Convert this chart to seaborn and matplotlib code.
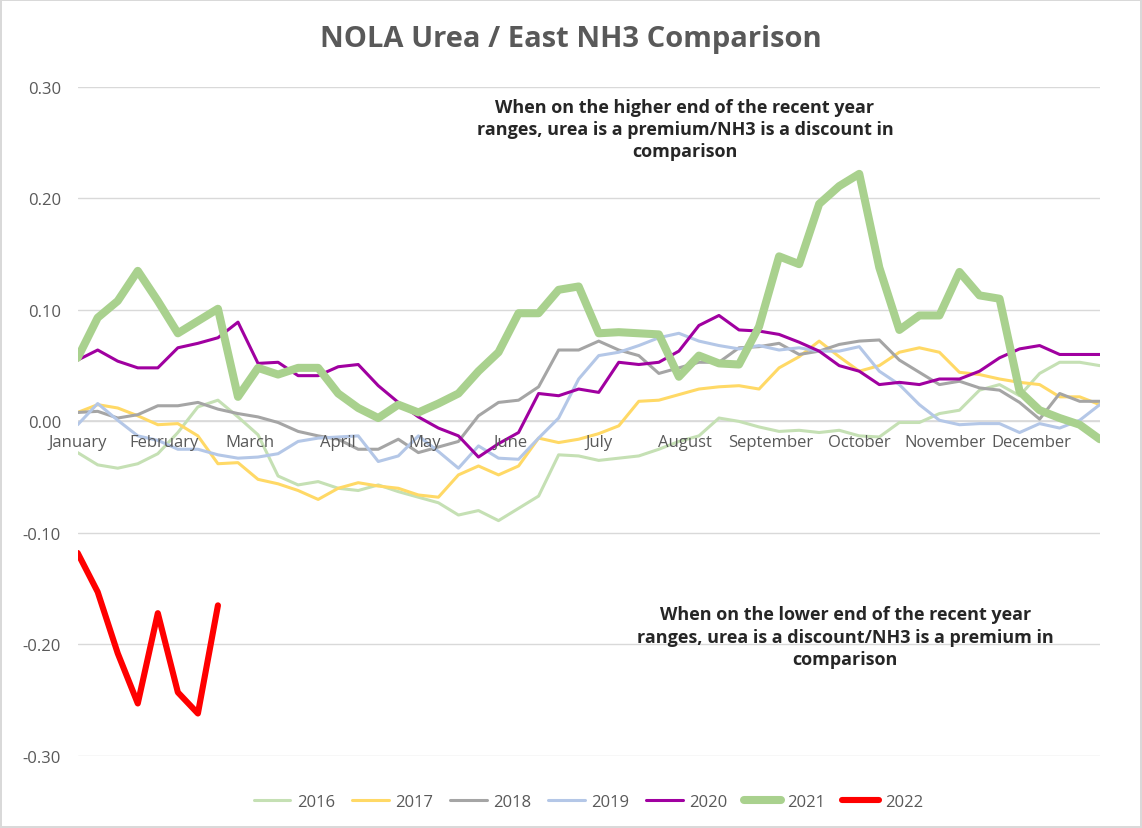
import matplotlib
matplotlib.use("Agg")
import matplotlib.pyplot as plt
import seaborn as sns
import pandas as pd
import numpy as np

months = ["January", "February", "March", "April", "May", "June", "July",
          "August", "September", "October", "November", "December"]
month_pos = [0, 4.3, 8.6, 13, 17.3, 21.6, 26, 30.3, 34.6, 39, 43.3, 47.6]

y2016 = [-0.028, -0.039, -0.042, -0.038, -0.029, -0.010, 0.013, 0.019, 0.004, -0.012,
         -0.049, -0.057, -0.054, -0.060, -0.062, -0.057, -0.063, -0.068, -0.073, -0.084,
         -0.080, -0.089, -0.078, -0.067, -0.030, -0.031, -0.035, -0.033, -0.031, -0.025,
         -0.018, -0.013, 0.003, 0.000, -0.005, -0.009, -0.008, -0.010, -0.008, -0.013,
         -0.014, -0.001, -0.001, 0.007, 0.010, 0.028, 0.033, 0.023, 0.043, 0.053, 0.053, 0.050]
y2017 = [0.008, 0.015, 0.012, 0.005, -0.003, -0.002, -0.013, -0.038, -0.037, -0.052,
         -0.056, -0.062, -0.070, -0.060, -0.055, -0.058, -0.060, -0.066, -0.068, -0.048,
         -0.040, -0.048, -0.040, -0.015, -0.019, -0.016, -0.011, -0.004, 0.018, 0.019,
         0.024, 0.029, 0.031, 0.032, 0.029, 0.048, 0.058, 0.072, 0.058, 0.045,
         0.050, 0.062, 0.066, 0.062, 0.044, 0.042, 0.038, 0.035, 0.033, 0.022, 0.022, 0.015]
y2018 = [0.008, 0.009, 0.003, 0.006, 0.014, 0.014, 0.017, 0.011, 0.007, 0.004,
         -0.001, -0.009, -0.013, -0.016, -0.025, -0.025, -0.016, -0.028, -0.023, -0.018,
         0.005, 0.017, 0.019, 0.031, 0.064, 0.064, 0.072, 0.064, 0.059, 0.043,
         0.048, 0.053, 0.053, 0.066, 0.067, 0.070, 0.060, 0.063, 0.069, 0.072,
         0.073, 0.055, 0.044, 0.033, 0.036, 0.030, 0.028, 0.017, 0.002, 0.025, 0.018, 0.018]
y2019 = [-0.003, 0.016, 0.001, -0.013, -0.017, -0.025, -0.025, -0.030, -0.033, -0.032,
         -0.029, -0.018, -0.015, -0.014, -0.013, -0.036, -0.031, -0.013, -0.027, -0.042,
         -0.022, -0.033, -0.034, -0.015, 0.003, 0.038, 0.059, 0.062, 0.068, 0.075,
         0.079, 0.072, 0.068, 0.065, 0.068, 0.064, 0.066, 0.063, 0.063, 0.067,
         0.045, 0.033, 0.015, 0.001, -0.003, -0.002, -0.002, -0.010, -0.002, -0.006, 0.001, 0.015]
y2020 = [0.055, 0.064, 0.054, 0.048, 0.048, 0.066, 0.070, 0.075, 0.089, 0.052,
         0.053, 0.041, 0.041, 0.049, 0.051, 0.032, 0.017, 0.004, -0.006, -0.013,
         -0.032, -0.020, -0.010, 0.025, 0.023, 0.029, 0.026, 0.053, 0.051, 0.053,
         0.063, 0.086, 0.095, 0.082, 0.081, 0.078, 0.071, 0.063, 0.050, 0.045,
         0.033, 0.035, 0.033, 0.038, 0.038, 0.045, 0.057, 0.065, 0.068, 0.060, 0.060, 0.060]
y2021 = [0.057, 0.093, 0.108, 0.135, 0.108, 0.079, 0.090, 0.101, 0.022, 0.048,
         0.042, 0.048, 0.048, 0.025, 0.012, 0.003, 0.015, 0.008, 0.016, 0.025,
         0.045, 0.062, 0.097, 0.097, 0.118, 0.121, 0.079, 0.080, 0.079, 0.078,
         0.040, 0.059, 0.052, 0.051, 0.085, 0.148, 0.141, 0.195, 0.211, 0.222,
         0.138, 0.082, 0.095, 0.095, 0.134, 0.113, 0.110, 0.027, 0.010, 0.003, -0.003, -0.016]
y2022 = [-0.118, -0.153, -0.208, -0.253, -0.172, -0.243, -0.262, -0.165]

series = {"2016": y2016, "2017": y2017, "2018": y2018, "2019": y2019,
          "2020": y2020, "2021": y2021, "2022": y2022}
colors = {"2016": "#C5E0B4", "2017": "#FFD966", "2018": "#A5A5A5", "2019": "#B4C7E7",
          "2020": "#A000A0", "2021": "#A9D18E", "2022": "#FF0000"}
widths = {"2016": 2.2, "2017": 2.2, "2018": 2.2, "2019": 2.2, "2020": 2.2, "2021": 5.8, "2022": 4.4}

sns.set_style("white")
plt.rcParams["font.family"] = ["Open Sans", "DejaVu Sans"]

fig = plt.figure(figsize=(11.42, 8.29), dpi=100)
ax = fig.add_axes([0.068, 0.087, 0.895, 0.807])

for name, vals in series.items():
    df = pd.DataFrame({"week": np.arange(len(vals)), "value": vals})
    sns.lineplot(data=df, x="week", y="value", ax=ax, color=colors[name],
                 linewidth=widths[name], label=name)

ax.set_xlim(0, 51)
ax.set_ylim(-0.3, 0.3)
ax.set_yticks(np.arange(-0.3, 0.31, 0.1))
ax.set_yticklabels([f"{v:.2f}" for v in np.arange(-0.3, 0.31, 0.1)], color="#595959", fontsize=12)
ax.tick_params(axis="y", length=0, pad=12)
ax.set_xticks([])
ax.set_xlabel("")
ax.set_ylabel("")
for s in ax.spines.values():
    s.set_visible(False)
ax.grid(axis="y", color="#D9D9D9", linewidth=1)
ax.axhline(0, color="#D9D9D9", linewidth=1.2, zorder=0)
ax.set_axisbelow(True)

for m, p in zip(months, month_pos):
    ax.text(p, -0.011, m, ha="center", va="top", fontsize=12, color="#595959")

ax.text(30.3, 0.262, "When on the higher end of the recent year\nranges, urea is a premium/NH3 is a discount in\ncomparison",
        ha="center", va="center", fontsize=13, fontweight="bold", linespacing=1.3,
        multialignment="center")
ax.text(38.3, -0.193, "When on the lower end of the recent year\nranges, urea is a discount/NH3 is a premium in\ncomparison",
        ha="center", va="center", fontsize=13, fontweight="bold", linespacing=1.3,
        multialignment="center")

fig.suptitle("NOLA Urea / East NH3 Comparison", y=0.97, fontsize=21,
             fontweight="bold", color="#595959")

ax.legend(loc="upper center", bbox_to_anchor=(0.5, -0.035), ncol=7, frameon=False,
          fontsize=12, handlelength=2.2, columnspacing=1.0, handletextpad=0.4,
          labelcolor="#595959")

fig.patch.set_edgecolor("#D9D9D9")
fig.patch.set_linewidth(1.5)
fig.savefig("out.png", dpi=100, edgecolor=fig.get_edgecolor())
